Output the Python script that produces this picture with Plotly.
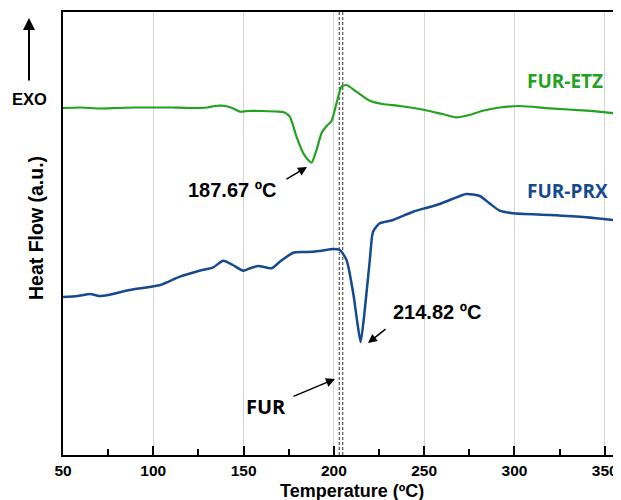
import plotly.graph_objects as go

# FUR-ETZ (green) thermogram, heat flow in arbitrary units
etz_T = [50, 60, 70, 80, 90, 100, 110, 120, 130, 134, 138, 143, 148, 152, 160, 168, 172, 175.6, 179.3, 183, 185.5, 187.67,
         190.4, 193.2, 196, 198.7, 201.5, 204.2, 207, 212.5, 219.9, 227, 236.5, 250.3, 260, 267.9, 275, 282.4, 292, 302.9,
         319.5, 339.8, 359]
etz_y = [347, 347.5, 346.5, 347, 347.5, 347.5, 347.5, 347, 347.5, 349, 349.3, 347.5, 343.3, 344, 344, 343.5, 343, 338.3, 318.3, 302, 295.5, 292.5,
         305, 322, 329, 334, 352, 368.3, 370, 363.3, 354.3, 351, 349, 345, 341, 337.7, 340, 344.3, 347.5, 349,
         346.7, 344.3, 341]

# FUR-PRX (blue) thermogram, heat flow in arbitrary units
prx_T = [50, 58, 65, 70, 75, 87, 104, 114.7, 125, 133.2, 138.7, 144, 149.8, 154, 158.1, 165.5, 170.1, 177.5, 183, 188.5, 194,
         199.6, 203.3, 207, 210.7, 212.8, 214.82, 217.1, 219.9, 221.7, 225.4, 232.8, 243.9, 250.3, 257, 264.2, 273.4, 280.8,
         286, 291.8, 299.2, 319.5, 339.8, 359]
prx_y = [158, 159, 161, 159, 160, 165, 170, 178.3, 184, 187.7, 194.3, 190, 184.3, 187, 189, 186.7, 193.3, 202.3, 203, 203.3, 204.5,
         206, 205, 195, 162, 135, 113, 145, 195, 223.3, 231.7, 235, 243.3, 246.7, 250, 255, 261, 259,
         252, 244.3, 241.7, 240, 237.7, 234]

peak_T = [187.67, 214.82]
fur_T = [203.0, 204.9]
x_ticks = [50, 100, 150, 200, 250, 300, 350]

green = "#22a21e"
blue = "#164a8e"
bold = "Liberation Sans"

fig = go.Figure()
fig.add_trace(go.Scatter(x=etz_T, y=etz_y, mode="lines", line=dict(color=green, width=2.2, shape="spline", smoothing=0.6),
                         showlegend=False, hoverinfo="skip"))
fig.add_trace(go.Scatter(x=prx_T, y=prx_y, mode="lines", line=dict(color=blue, width=2.5, shape="spline", smoothing=0.6),
                         showlegend=False, hoverinfo="skip"))

for t in fur_T:
    fig.add_shape(type="line", xref="x", yref="paper", x0=t, x1=t, y0=0, y1=1,
                  line=dict(color="#555555", width=1.2, dash="3px,2px"), layer="below")


def arrow(x0, y0, x1, y1, w=1.5):
    fig.add_annotation(xref="paper", yref="paper", axref="pixel", ayref="pixel",
                       x=(x1 - 63) / 558, y=(455 - y1) / 443, ax=x0 - x1, ay=y0 - y1,
                       text="", showarrow=True, arrowhead=2, arrowsize=1.2, arrowwidth=w, arrowcolor="black")


def label(x, y, text, size, color="black", family=bold, angle=0):
    fig.add_annotation(xref="paper", yref="paper", x=(x - 63) / 558, y=(455 - y) / 443, text=text, showarrow=False,
                       font=dict(family=family, size=size, color=color), textangle=angle, xanchor="center", yanchor="middle")


arrow(285, 180, 307, 167)
arrow(387, 328, 368, 343)
arrow(292, 397, 335, 379)
arrow(29, 82, 29, 18, w=2)

label(232, 190, "<b>187.67 ºC</b>", 20)
label(437, 312, "<b>214.82 ºC</b>", 20)
label(266, 406, "<b>FUR</b>", 20, family="Open Sans")
label(565, 81, "<b>FUR-ETZ</b>", 19, green, family="Open Sans")
label(567, 191, "<b>FUR-PRX</b>", 19, blue, family="Open Sans")
label(29, 99, "<b>EXO</b>", 16.5)
label(36, 228, "<b>Heat Flow (a.u.)</b>", 19.5, angle=-90)
label(352, 491, "<b>Temperature (ºC)</b>", 18)

# page body has an 8px margin, so the figure is sized/offset to fit the 621x500 window
fig.update_layout(
    width=613, height=492,
    margin=dict(l=55, r=0, t=4, b=45, autoexpand=False),
    paper_bgcolor="white", plot_bgcolor="white",
    font=dict(family=bold, color="black"),
    xaxis=dict(range=[50, 359], tickvals=x_ticks, ticktext=[f"<b>{v}</b>" for v in x_ticks], automargin=False,
               tickfont=dict(size=15.5, family=bold), showline=True, linecolor="black", linewidth=2, mirror=True,
               ticks="inside", ticklen=9, tickwidth=1.5, tickcolor="black",
               minor=dict(dtick=25, tick0=50, ticks="inside", ticklen=6, tickwidth=1.5, tickcolor="black", showgrid=False),
               showgrid=True, gridcolor="#d4d4d4", gridwidth=1, zeroline=False),
    yaxis=dict(range=[0, 443], showline=True, linecolor="black", linewidth=2, mirror=False, automargin=False,
               showticklabels=False, ticks="", showgrid=False, zeroline=False),
)

fig.write_html("out.html")
